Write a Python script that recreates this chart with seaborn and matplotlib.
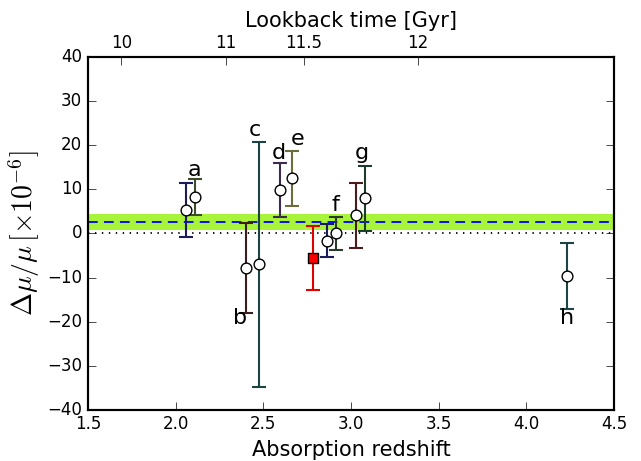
import numpy as np
import pandas as pd
import matplotlib
matplotlib.use("Agg")
import matplotlib.pyplot as plt
import seaborn as sns

# absorption systems: redshift, delta mu / mu (x1e-6), error
z_abs = [2.057, 2.110, 2.401, 2.477, 2.595, 2.662, 2.863, 2.915, 3.029, 3.080, 4.234]
dmu = [5.3, 8.3, -7.8, -7.0, 9.9, 12.5, -1.6, 0.0, 4.1, 8.0, -9.7]
dmu_err = [6.2, 4.1, 10.2, 27.8, 6.2, 6.2, 3.8, 3.8, 7.3, 7.4, 7.5]
bar_colors = ["#1c1c5c", "#3c4c2c", "#3c1c1c", "#1c4444", "#3c2c4c", "#6c6c3c",
              "#1c1c5c", "#2c3c2c", "#4c1c1c", "#1c3c2c", "#1c4444"]

# highlighted (new) measurement
z_new = [2.782]
dmu_new = [-5.6]
dmu_new_err = [7.3]

# letters next to systems
labels = ["a", "b", "c", "d", "e", "f", "g", "h"]
label_x = [2.105, 2.367, 2.453, 2.590, 2.695, 2.909, 3.063, 4.23]
label_y = [14.4, -19.2, 23.5, 18.3, 21.4, 6.5, 18.3, -19.2]

# weighted mean band
mean_val = 2.7
mean_err = 1.8

# lookback time ticks on top axis
lb_z = [1.692, 2.287, 2.733, 3.380]
lb_labels = ["10", "11", "11.5", "12"]

plt.style.use("classic")
sns.set_style("ticks", {"xtick.direction": "in", "ytick.direction": "in",
                        "text.color": "black", "axes.labelcolor": "black",
                        "xtick.color": "black", "ytick.color": "black",
                        "axes.edgecolor": "black"})
plt.rcParams["font.family"] = ["DejaVu Sans"]
plt.rcParams["mathtext.fontset"] = "cm"

df = pd.DataFrame({"z": z_abs, "dmu": dmu, "err": dmu_err})

fig = plt.figure(figsize=(6.41, 4.61), dpi=100)
ax = fig.add_axes([0.137, 0.111, 0.821, 0.765])

ax.axhspan(mean_val - mean_err, mean_val + mean_err, color="#a8f43a", lw=0, zorder=1)
ax.axhline(mean_val, color="#0000ff", ls=(0, (7, 4.5)), lw=1.3, zorder=2)
ax.axhline(0, color="black", ls=(0, (1, 4)), lw=1.3, zorder=2)

for i in range(len(z_abs)):
    ax.errorbar(z_abs[i], dmu[i], yerr=dmu_err[i], fmt="none", ecolor=bar_colors[i],
                elinewidth=1.5, capsize=5, capthick=1.5, zorder=3)
ax.errorbar(z_new, dmu_new, yerr=dmu_new_err, fmt="none", ecolor="#e00000",
            elinewidth=1.5, capsize=5, capthick=1.5, zorder=3)

sns.scatterplot(data=df, x="z", y="dmu", ax=ax, marker="o", s=60, color="white",
                edgecolor="black", linewidth=1, zorder=4, legend=False)
sns.scatterplot(x=z_new, y=dmu_new, ax=ax, marker="s", s=50, color="red",
                edgecolor="black", linewidth=1, zorder=4, legend=False)

for lab, lx, ly in zip(labels, label_x, label_y):
    ax.text(lx, ly, lab, fontsize=16, ha="center", va="center", color="black", zorder=5)

ax.set_xlim(1.5, 4.5)
ax.set_ylim(-40, 40)
ax.set_xticks(np.arange(1.5, 4.51, 0.5))
ax.set_yticks(np.arange(-40, 41, 10))
ax.tick_params(axis="both", labelsize=12, direction="in", length=6, top=False, right=True)
ax.set_xlabel("Absorption redshift", fontsize=15)
ax.set_ylabel(r"$\Delta\mu/\mu\,[\times10^{-6}]$", fontsize=20, labelpad=4)

ax2 = ax.twiny()
ax2.set_xlim(ax.get_xlim())
ax2.set_xticks(lb_z)
ax2.set_xticklabels(lb_labels)
ax2.tick_params(axis="x", labelsize=12, direction="in", length=6)
ax2.set_xlabel("Lookback time [Gyr]", fontsize=15)

for a in (ax, ax2):
    for sp in a.spines.values():
        sp.set_linewidth(1.5)
        sp.set_visible(True)

fig.savefig("out.png", dpi=100)
